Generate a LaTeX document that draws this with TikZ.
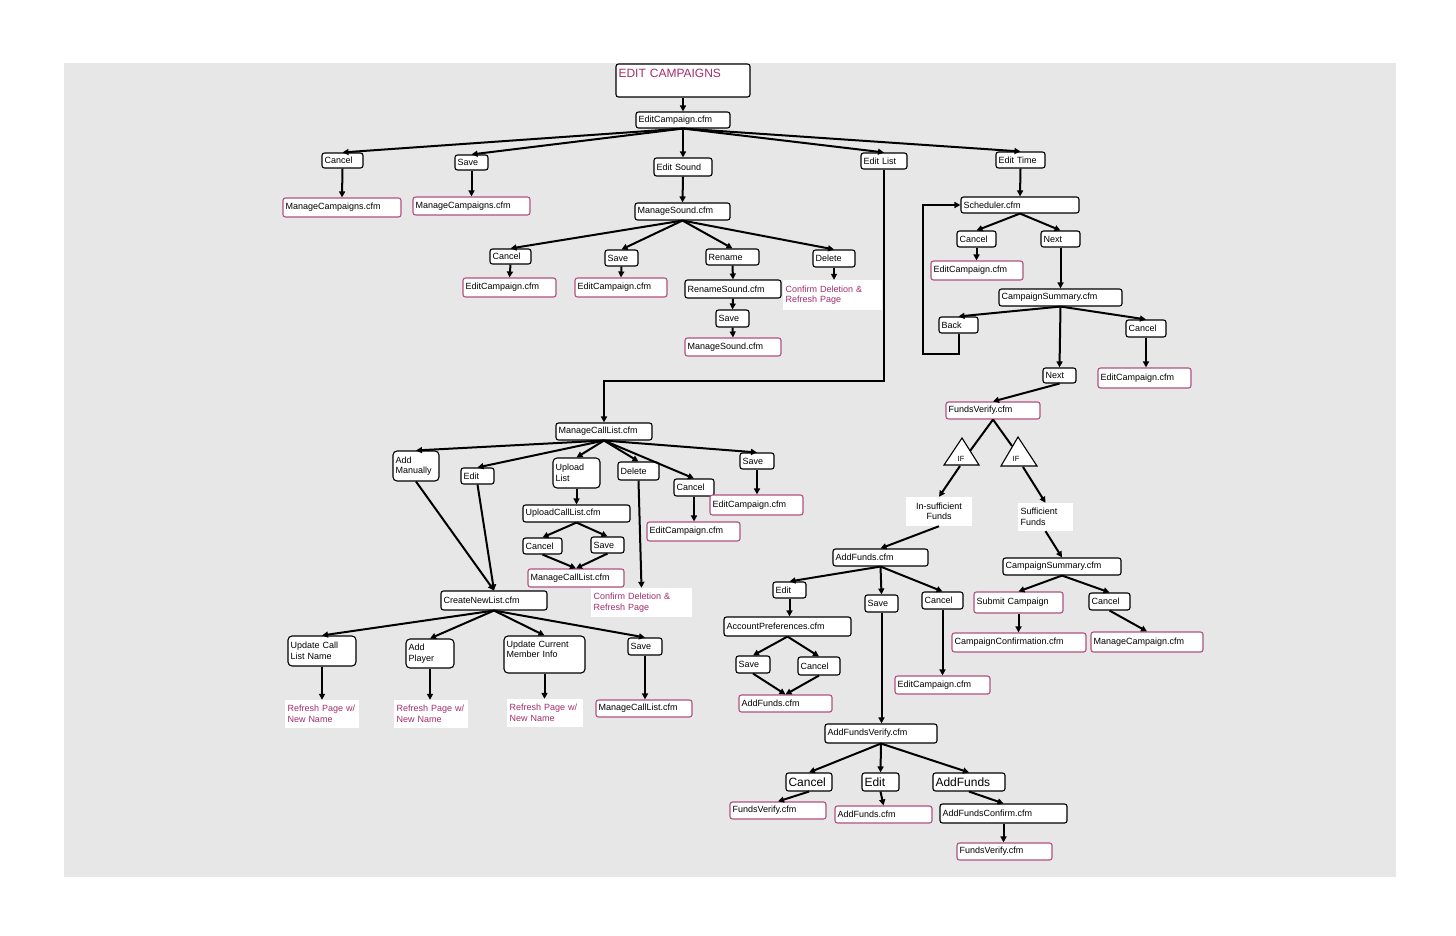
\documentclass[tikz,border=0pt]{standalone}
\usepackage{fontspec}
\setmainfont{Liberation Sans}
\usetikzlibrary{arrows.meta}
\definecolor{bg}{RGB}{231,231,231}
\definecolor{magT}{RGB}{163,45,107}
\definecolor{magB}{RGB}{178,80,128}
\newcommand\bx[7]{%
 \pgfmathsetmacro\bxw{#5-#3-5}%
 \pgfmathsetmacro\bxh{#6-#4}%
 \pgfmathsetmacro\bxcx{(#3+#5)/2}%
 \pgfmathsetmacro\bxcy{(#4+#6)/2}%
 \node[#1, text width=\bxw pt, minimum height=\bxh pt] (#2) at (\bxcx,\bxcy) {#7};}
\begin{document}
\begin{tikzpicture}[x=1pt,y=-1pt,
 bb/.style={draw=black, fill=white, rounded corners=2.5pt, line width=1.1pt, inner xsep=2.5pt, inner ysep=0pt, align=left, font=\fontsize{9}{10.5}\selectfont},
 mb/.style={bb, draw=magB},
 big/.style={bb, font=\fontsize{12}{14}\selectfont},
 wt/.style={fill=white, inner xsep=2.5pt, inner ysep=0pt, align=left, text=magT, font=\fontsize{9}{10.5}\selectfont},
 ar/.style={line width=2pt, -{Triangle[length=6pt,width=6pt]}},
 ln/.style={line width=2pt},
 tri/.style={draw=black, fill=white, line width=1.1pt, line join=miter}]
\useasboundingbox (0,0) rectangle (1456,936);
\fill[white] (0,0) rectangle (1456,936);
\fill[bg] (64,63) rectangle (1396,877);
% ---- top
\bx{bb,text=magT,font=\fontsize{12}{14}\selectfont}{ec}{616}{64}{750}{97}{EDIT CAMPAIGNS\\\mbox{}}
\bx{bb}{ecf}{636}{112}{730}{128}{EditCampaign.cfm}
\bx{bb}{c1}{322}{153}{363}{168}{Cancel}
\bx{bb}{s1}{455}{155}{488}{170}{Save}
\bx{bb}{es}{654}{158}{712}{176}{Edit Sound}
\bx{bb}{el}{861}{153}{907}{169}{Edit List}
\bx{bb}{et}{996}{152}{1045}{168}{Edit Time}
\bx{mb}{mc1}{283}{198}{401}{217}{ManageCampaigns.cfm}
\bx{mb}{mc2}{413}{197}{530}{215}{ManageCampaigns.cfm}
\bx{bb}{ms}{635}{203}{730}{220}{ManageSound.cfm}
\bx{bb}{sc}{490}{249}{531}{264}{Cancel}
\bx{bb}{ss}{605}{250}{638}{266}{Save}
\bx{bb}{sr}{706}{249}{759}{265}{Rename}
\bx{bb}{sd}{813}{250}{855}{267}{Delete}
\bx{mb}{sce}{463}{278}{556}{297}{EditCampaign.cfm}
\bx{mb}{sse}{575}{278}{667}{297}{EditCampaign.cfm}
\bx{bb}{rs}{685}{280}{781}{298}{RenameSound.cfm}
\bx{wt}{cda}{783}{280}{882}{310}{Confirm Deletion \&\\Refresh Page}
\bx{bb}{rss}{716}{310}{749}{327}{Save}
\bx{mb}{rsm}{685}{338}{781}{356}{ManageSound.cfm}
% ---- scheduler branch
\bx{bb}{sch}{961}{197}{1079}{213}{Scheduler.cfm}
\bx{bb}{schc}{957}{231}{996}{247}{Cancel}
\bx{bb}{schn}{1041}{231}{1080}{247}{Next}
\bx{mb}{sche}{931}{261}{1023}{280}{EditCampaign.cfm}
\bx{bb}{cs}{999}{289}{1122}{306}{CampaignSummary.cfm}
\bx{bb}{bk}{939}{317}{978}{333}{Back}
\bx{bb}{csc}{1126}{320}{1166}{337}{Cancel}
\bx{bb}{csn}{1043}{368}{1076}{383}{Next}
\bx{mb}{csce}{1098}{368}{1191}{388}{EditCampaign.cfm}
\bx{mb}{fv}{946}{402}{1040}{419}{FundsVerify.cfm}
\bx{wt,text=black,align=center}{ins}{906}{497}{972}{526}{In-sufficient\\Funds}
\bx{wt,text=black}{suf}{1018}{503}{1073}{531}{Sufficient\\Funds}
\bx{bb}{af}{833}{549}{928}{566}{AddFunds.cfm}
\bx{bb}{cs2}{1003}{558}{1121}{575}{CampaignSummary.cfm}
\bx{mb}{sub}{974}{592}{1063}{613}{Submit Campaign}
\bx{bb}{cs2c}{1089}{593}{1130}{610}{Cancel}
\bx{mb}{cc}{952}{633}{1086}{652}{CampaignConfirmation.cfm}
\bx{mb}{mcp}{1091}{632}{1203}{652}{ManageCampaign.cfm}
\bx{bb}{afe}{773}{582}{806}{598}{Edit}
\bx{bb}{afs}{865}{595}{898}{612}{Save}
\bx{bb}{afc}{922}{592}{963}{609}{Cancel}
\bx{bb}{ap}{724}{617}{851}{636}{AccountPreferences.cfm}
\bx{bb}{aps}{736}{656}{770}{673}{Save}
\bx{bb}{apc}{798}{657}{840}{675}{Cancel}
\bx{mb}{apf}{739}{695}{832}{712}{AddFunds.cfm}
\bx{mb}{afce}{895}{676}{990}{694}{EditCampaign.cfm}
\bx{bb}{afv}{825}{724}{937}{743}{AddFundsVerify.cfm}
\bx{big}{vc}{786}{773}{832}{791}{Cancel}
\bx{big}{ve}{862}{773}{899}{791}{Edit}
\bx{big}{va}{933}{773}{1005}{791}{AddFunds}
\bx{mb}{vcf}{730}{802}{826}{819}{FundsVerify.cfm}
\bx{mb}{vef}{835}{806}{932}{823}{AddFunds.cfm}
\bx{bb}{vac}{940}{804}{1067}{823}{AddFundsConfirm.cfm}
\bx{mb}{vacf}{957}{843}{1052}{860}{FundsVerify.cfm}
% ---- call list branch
\bx{bb}{mcl}{556}{423}{652}{440}{ManageCallList.cfm}
\bx{bb,rounded corners=4pt}{am}{393}{451}{439}{481}{Add\\Manually}
\bx{bb}{le}{461}{468}{494}{484}{Edit}
\bx{bb,rounded corners=4pt}{ul}{553}{458}{600}{488}{Upload\\List}
\bx{bb}{ld}{618}{462}{659}{480}{Delete}
\bx{bb}{lc}{674}{479}{714}{496}{Cancel}
\bx{bb}{ls}{740}{453}{774}{469}{Save}
\bx{mb}{lse}{710}{495}{803}{515}{EditCampaign.cfm}
\bx{mb}{lce}{647}{522}{740}{541}{EditCampaign.cfm}
\bx{bb}{ucl}{523}{505}{630}{522}{UploadCallList.cfm}
\bx{bb}{uc}{523}{538}{562}{554}{Cancel}
\bx{bb}{us}{591}{537}{624}{553}{Save}
\bx{mb}{umcl}{528}{569}{624}{587}{ManageCallList.cfm}
\bx{wt}{cdb}{591}{588}{692}{617}{Confirm Deletion \&\\Refresh Page}
\bx{bb}{cnl}{441}{591}{547}{610}{CreateNewList.cfm}
\bx{bb,rounded corners=4pt}{ucn}{288}{636}{356}{666}{Update Call\\List Name}
\bx{bb,rounded corners=4pt}{apl}{406}{639}{454}{668}{Add\\Player}
\bx{bb,rounded corners=4pt}{ucm}{504}{636}{585}{673}{Update Current\\Member Info\\\mbox{}}
\bx{bb}{cns}{628}{638}{662}{655}{Save}
\bx{wt}{r1}{285}{700}{359}{728}{Refresh Page w/\\New Name}
\bx{wt}{r2}{394}{700}{468}{728}{Refresh Page w/\\New Name}
\bx{wt}{r3}{507}{699}{583}{727}{Refresh Page w/\\New Name}
\bx{mb}{cnm}{596}{700}{692}{717}{ManageCallList.cfm}
% ---- IF triangles
\filldraw[tri] (944,465) -- (962,438) -- (979,465) -- cycle;
\node[font=\fontsize{7.5}{8}\selectfont, inner sep=0pt] (if1) at (961,459) {IF};
\filldraw[tri] (1001,466) -- (1018,437) -- (1037,466) -- cycle;
\node[font=\fontsize{7.5}{8}\selectfont, inner sep=0pt] (if2) at (1016,459) {IF};
\coordinate (t1e) at (970,451);
\coordinate (t1b) at (960,466);
\coordinate (t2e) at (1012,446);
\coordinate (t2b) at (1023,467);
% ---- connectors
\draw[ar] (ec.south) -- (ecf.north);
\foreach \t in {c1,s1,es,el,et} \draw[ar] (ecf.south) -- (\t.north);
\draw[ar] (c1.south) -- (mc1.north);
\draw[ar] (s1.south) -- (mc2.north);
\draw[ar] (es.south) -- (ms.north);
\foreach \t in {sc,ss,sr,sd} \draw[ar] (ms.south) -- (\t.north);
\draw[ar] (sc.south) -- (sce.north);
\draw[ar] (ss.south) -- (sse.north);
\draw[ar] (sr.south) -- (rs.north);
\draw[ar] (sd.south) -- (sd.south |- cda.north);
\draw[ar] (rs.south) -- (rss.north);
\draw[ar] (rss.south) -- (rsm.north);
\coordinate (elc) at (el.south |- 0,381);
\draw[ar] (el.south) |- (mcl.north |- elc) -- (mcl.north);
\draw[ar] (et.south) -- (sch.north);
\draw[ar] (sch.south) -- (schc.north);
\draw[ar] (sch.south) -- (schn.north);
\draw[ar] (schc.south) -- (schc.south |- sche.north);
\draw[ar] (schn.south) -- (schn.south |- cs.north);
\foreach \t in {bk,csn,csc} \draw[ar] (cs.south) -- (\t.north);
\draw[ar] (csc.south) -- (csc.south |- csce.north);
\coordinate (lp) at (923,354);
\draw[ar] (bk.south) |- (lp) |- (sch.west);
\draw[ar] (csn.south) -- (fv.north);
\draw[ln] (fv.south) -- (t1e);
\draw[ln] (fv.south) -- (t2e);
\draw[ar] (t1b) -- (ins.north);
\draw[ar] (t2b) -- (suf.north);
\draw[ar] (ins.south) -- (af.north);
\draw[ar] (suf.south) -- (cs2.north);
\draw[ar] (cs2.south) -- (sub.north);
\draw[ar] (cs2.south) -- (cs2c.north);
\draw[ar] (sub.south) -- (sub.south |- cc.north);
\draw[ar] (cs2c.south) -- (mcp.north);
\foreach \t in {afe,afs,afc} \draw[ar] (af.south) -- (\t.north);
\draw[ar] (afe.south) -- (afe.south |- ap.north);
\draw[ar] (ap.south) -- (aps.north);
\draw[ar] (ap.south) -- (apc.north);
\draw[ar] (aps.south) -- (apf.north);
\draw[ar] (apc.south) -- (apf.north);
\draw[ar] (afs.south) -- (afs.south |- afv.north);
\draw[ar] (afc.south) -- (afc.south |- afce.north);
\foreach \t in {vc,ve,va} \draw[ar] (afv.south) -- (\t.north);
\draw[ar] (vc.south) -- (vcf.north);
\draw[ar] (ve.south) -- (vef.north);
\draw[ar] (va.south) -- (vac.north);
\draw[ar] (vac.south) -- (vac.south |- vacf.north);
\foreach \t in {am,le,ul,ld,lc,ls} \draw[ar] (mcl.south) -- (\t.north);
\draw[ar] (am.south) -- (cnl.north);
\draw[ar] (le.south) -- (cnl.north);
\draw[ar] (ul.south) -- (ul.south |- ucl.north);
\draw[ar] (ucl.south) -- (uc.north);
\draw[ar] (ucl.south) -- (us.north);
\draw[ar] (uc.south) -- (umcl.north);
\draw[ar] (us.south) -- (umcl.north);
\draw[ar] (ld.south) -- (cdb.north);
\draw[ar] (lc.south) -- (lc.south |- lce.north);
\draw[ar] (ls.south) -- (ls.south |- lse.north);
\foreach \t in {ucn,apl,ucm,cns} \draw[ar] (cnl.south) -- (\t.north);
\draw[ar] (ucn.south) -- (ucn.south |- r1.north);
\draw[ar] (apl.south) -- (apl.south |- r2.north);
\draw[ar] (ucm.south) -- (ucm.south |- r3.north);
\draw[ar] (cns.south) -- (cns.south |- cnm.north);
\end{tikzpicture}
\end{document}
